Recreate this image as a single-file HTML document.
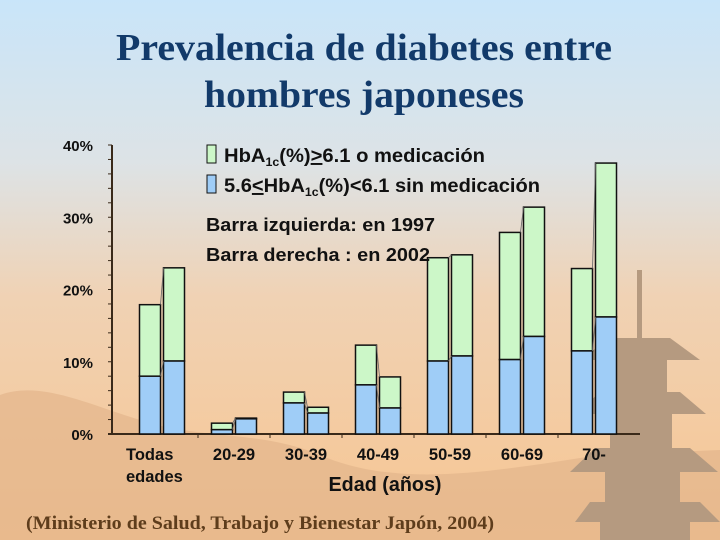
<!DOCTYPE html>
<html><head><meta charset="utf-8"><style>
html,body{margin:0;padding:0;width:720px;height:540px;overflow:hidden}
svg{display:block}
.t{font-family:"Liberation Serif",serif;font-weight:bold;fill:#123a6a}
.s{font-family:"Liberation Sans",sans-serif;font-weight:bold;fill:#111}
</style></head><body>
<svg id="chart" width="720" height="540" viewBox="0 0 720 540">
<defs>
<linearGradient id="bg" x1="0" y1="0" x2="0" y2="1">
<stop offset="0" stop-color="#c9e5f9"/><stop offset="0.3" stop-color="#dde3e6"/><stop offset="0.55" stop-color="#f0d2b4"/><stop offset="1" stop-color="#f7c591"/>
</linearGradient>
</defs>
<rect width="720" height="540" fill="url(#bg)"/>
<path d="M0,395 C40,380 90,405 140,420 C200,440 260,430 320,455 C400,490 500,470 600,455 L720,450 L720,540 L0,540 Z" fill="#e2b58c" opacity="0.7"/>
<g fill="#b59a80">
<rect x="637" y="270" width="5" height="70"/>
<path d="M610,338 L670,338 L700,360 L580,360 Z"/>
<rect x="615" y="360" width="52" height="32"/>
<path d="M600,392 L680,392 L706,414 L576,414 Z"/>
<rect x="610" y="414" width="62" height="34"/>
<path d="M595,448 L690,448 L718,472 L570,472 Z"/>
<rect x="605" y="472" width="75" height="30"/>
<path d="M590,502 L700,502 L720,522 L575,522 Z"/>
<rect x="600" y="522" width="90" height="18"/>
</g>
<text class="t" x="364" y="60" text-anchor="middle" font-size="38" textLength="496" lengthAdjust="spacingAndGlyphs">Prevalencia de diabetes entre</text>
<text class="t" x="364" y="107" text-anchor="middle" font-size="38" textLength="320" lengthAdjust="spacingAndGlyphs">hombres japoneses</text>
<g id="plot"></g>
<g>
<rect x="207" y="145" width="9" height="18" fill="#ccf7c8" stroke="#111"/>
<text class="s" x="224" y="162" font-size="19.5" textLength="261" lengthAdjust="spacingAndGlyphs">HbA<tspan font-size="12" dy="4">1c</tspan><tspan dy="-4">(%)</tspan><tspan text-decoration="underline">&gt;</tspan>6.1 o medicación</text>
<rect x="207" y="175" width="9" height="18" fill="#9fcdf7" stroke="#111"/>
<text class="s" x="224" y="192" font-size="19.5" textLength="316" lengthAdjust="spacingAndGlyphs">5.6<tspan text-decoration="underline">&lt;</tspan>HbA<tspan font-size="12" dy="4">1c</tspan><tspan dy="-4">(%)&lt;6.1 sin medicación</tspan></text>
<text class="s" x="206" y="231" font-size="18" textLength="229" lengthAdjust="spacingAndGlyphs">Barra izquierda: en 1997</text>
<text class="s" x="206" y="261" font-size="18" textLength="224" lengthAdjust="spacingAndGlyphs">Barra derecha : en 2002</text>
</g>
<text class="s" x="385" y="491" text-anchor="middle" font-size="20" textLength="113" lengthAdjust="spacingAndGlyphs">Edad (años)</text>
<text class="t" x="26" y="529" font-size="19" style="fill:#5e3d1c" textLength="468" lengthAdjust="spacingAndGlyphs">(Ministerio de Salud, Trabajo y Bienestar Japón, 2004)</text>
</svg>
<script>
const categories=["Todas edades","20-29","30-39","40-49","50-59","60-69","70-"];
const total1997=[17.9,1.5,5.8,12.3,24.4,27.9,22.9];
const blue1997=[8.0,0.6,4.3,6.8,10.1,10.3,11.5];
const total2002=[23.0,2.2,3.7,7.9,24.8,31.4,37.5];
const blue2002=[10.1,2.1,2.9,3.6,10.8,13.5,16.2];
const yTicks=[0,10,20,30,40];

const NS="http://www.w3.org/2000/svg";
const plot=document.getElementById('plot');
const y0=434,pxPer=7.225,xStart=126,catW=72,barW=21,gap=3;
function y(v){return y0-v*pxPer;}
function xc(i){return xStart+catW*i+catW/2;}
function mk(tag,attrs){const e=document.createElementNS(NS,tag);for(const k in attrs)e.setAttribute(k,attrs[k]);plot.appendChild(e);return e;}

let a=mk('line',{x1:112,y1:y(40),x2:112,y2:y0,stroke:'#3a2a1a','stroke-width':2});


for(let v=0;v<=40;v+=2){
  let t=mk('line',{x1:108,y1:y(v),x2:112,y2:y(v),stroke:'#3a2a1a','stroke-width':1});
  
  
}
yTicks.forEach(v=>{
  let t=mk('text',{x:93,y:y(v)+6,'text-anchor':'end','font-size':15,class:'s'});
  t.textContent=v+'%';
  
  
});
let xa=mk('line',{x1:108,y1:y0,x2:640,y2:y0,stroke:'#3a2a1a','stroke-width':2});


for(let i=1;i<categories.length;i++){
  let t=mk('line',{x1:xStart+catW*i,y1:y0,x2:xStart+catW*i,y2:y0+4,stroke:'#3a2a1a'});
  
  
}
categories.forEach((c,i)=>{
  const parts=c==="Todas edades"?["Todas","edades"]:[c];
  parts.forEach((p,j)=>{
    let t=mk('text',{x:i===0?126:xc(i),y:460+j*22,'text-anchor':i===0?'start':'middle','font-size':16.5,class:'s'});
    t.textContent=p;
    
    
  });
});
categories.forEach((c,i)=>{
  const lx=xc(i)-gap/2-barW, rx=xc(i)+gap/2;
  [[lx,total1997[i],blue1997[i],'1997'],[rx,total2002[i],blue2002[i],'2002']].forEach(([x,t,b,yr])=>{
    let g=mk('rect',{x:x,y:y(t),width:barW,height:y(b)-y(t),fill:'#ccf7c8',stroke:'#111','stroke-width':1.5});
    
    
    let bl=mk('rect',{x:x,y:y(b),width:barW,height:y0-y(b),fill:'#9fcdf7',stroke:'#111','stroke-width':1.5});
    
    
  });
  [[total1997[i],total2002[i]],[blue1997[i],blue2002[i]]].forEach(([p,q])=>{
    let l=mk('line',{x1:lx+barW,y1:y(p),x2:rx,y2:y(q),stroke:'#666','stroke-width':0.8});
    
    
  });
});
</script>
</body></html>
